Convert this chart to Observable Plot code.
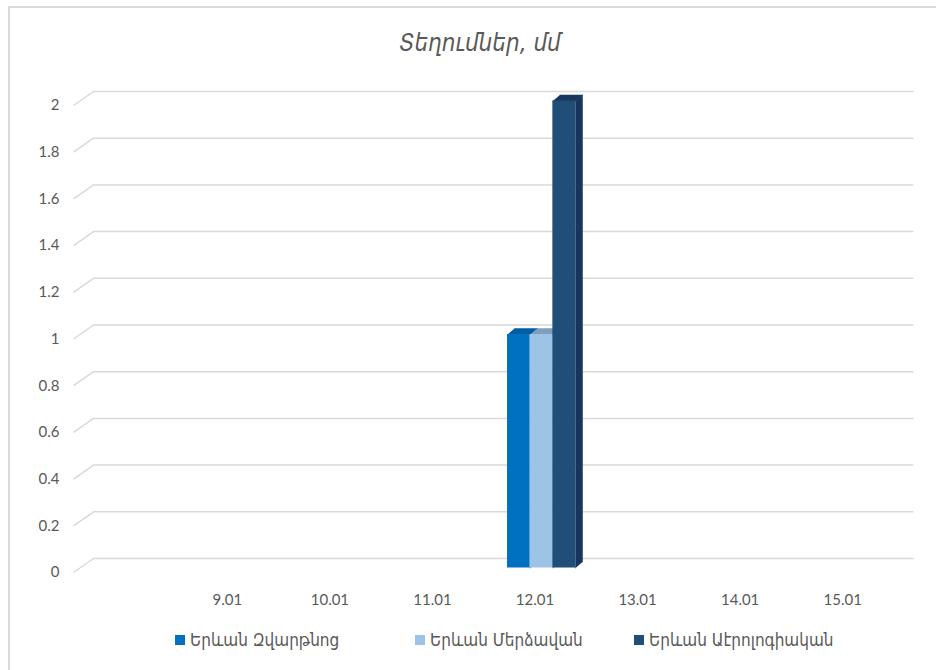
<!DOCTYPE html>
<html><head><meta charset="utf-8">
<script src="https://cdn.jsdelivr.net/npm/d3@7"></script>
<script src="https://cdn.jsdelivr.net/npm/@observablehq/plot@0.6"></script>
<style>
body{margin:0;overflow:hidden;background:#fff;}
#wrap{position:relative;width:936px;height:670px;overflow:hidden;background:#fff;}
#frame{position:absolute;left:8px;top:6px;width:1000px;height:1000px;border:2px solid #d9d9d9;}
#title{position:absolute;top:29px;left:0;width:960px;text-align:center;font-family:"DejaVu Sans Condensed","DejaVu Sans",sans-serif;font-style:italic;font-size:24px;color:#595959;}
#chart{position:absolute;left:0;top:70px;}
.leg{position:absolute;top:630px;display:flex;align-items:center;font-family:"DejaVu Sans Condensed","DejaVu Sans",sans-serif;font-size:17px;color:#595959;white-space:nowrap;}
.sw{width:10px;height:10px;margin-right:5px;}
</style>
</head><body>
<div id="wrap">
  <div id="frame"></div>
  <div id="title"></div>
  <div id="chart"></div>
</div>
<script>
// ---- data ----
const titleText = "Տեղումներ, մմ";
const categories = ["", "9.01", "10.01", "11.01", "12.01", "13.01", "14.01", "15.01"];
const seriesNames = ["Երևան Զվարթնոց", "Երևան Մերձավան", "Երևան Աէրոլոգիական"];
const zvartnots   = [null, 0, 0, 0, 1, 0, 0, 0];
const merdzavan   = [null, 0, 0, 0, 1, 0, 0, 0];
const aerological = [null, 0, 0, 0, 2, 0, 0, 0];
const yTicks = [0, 0.2, 0.4, 0.6, 0.8, 1, 1.2, 1.4, 1.6, 1.8, 2];

// ---- styles / layout ----
const frontColors = ["#0070c0", "#9dc3e6", "#1f4e79"];
const topColors   = ["#005ea3", "#7f9dbd", "#17375e"];
const sideColors  = ["#005390", "#6f8aa6", "#16365a"];
const legendLeft  = [175, 415, 634];
const W = 936, H = 540, mL = 73, mR = 42.5, mT = 35, mB = 38;
const nCat = categories.length;
const unitX = (W - mL - mR) / nCat;
const unitY = (H - mT - mB) / 2;
const groupW = 68 / unitX, barW = groupW / 3;
const depthX = 7 / unitX, depthY = 6 / unitY;       // bar depth
const backX = 20 / unitX, backY = 14 / unitY;       // wall depth
const barDx = 6.5, barDy = -4.5;

document.getElementById("title").textContent = titleText;

const seriesValues = [zvartnots, merdzavan, aerological];
const barMarks = [];
seriesValues.forEach((vals, j) => {
  const bars = [];
  vals.forEach((v, i) => {
    if (v == null || v <= 0) return;
    const x1 = i + 0.5 - groupW / 2 + j * barW;
    bars.push({id: `${j}-${i}`, v, x1, x2: x1 + barW});
  });
  const side = bars.flatMap(b => [
    {id: b.id, x: b.x2, y: 0},
    {id: b.id, x: b.x2, y: b.v},
    {id: b.id, x: b.x2 + depthX, y: b.v + depthY},
    {id: b.id, x: b.x2 + depthX, y: depthY}
  ]);
  const top = bars.flatMap(b => [
    {id: b.id, x: b.x1, y: b.v},
    {id: b.id, x: b.x2, y: b.v},
    {id: b.id, x: b.x2 + depthX, y: b.v + depthY},
    {id: b.id, x: b.x1 + depthX, y: b.v + depthY}
  ]);
  barMarks.push(
    Plot.line(side, {x: "x", y: "y", z: "id", fill: sideColors[j], stroke: sideColors[j], strokeWidth: 0.5, dx: barDx, dy: barDy}),
    Plot.line(top, {x: "x", y: "y", z: "id", fill: topColors[j], stroke: topColors[j], strokeWidth: 0.5, dx: barDx, dy: barDy}),
    Plot.rect(bars, {x1: "x1", x2: "x2", y1: 0, y2: "v", fill: frontColors[j], dx: barDx, dy: barDy})
  );
});

const chart = Plot.plot({
  width: W, height: H,
  marginLeft: mL, marginRight: mR, marginTop: mT, marginBottom: mB,
  style: {fontFamily: "Lato, 'DejaVu Sans', sans-serif", fontSize: "15px", color: "#595959", background: "transparent"},
  x: {domain: [0, nCat], ticks: d3.range(1, nCat).map(i => i + 0.5), tickFormat: v => categories[Math.floor(v)], tickSize: 0, tickPadding: 22, label: null},
  y: {domain: [0, 2], ticks: yTicks, tickFormat: v => String(Math.round(v * 10) / 10), tickSize: 0, tickPadding: 14, label: null},
  marks: [
    Plot.link(yTicks, {x1: 0, y1: d => d, x2: backX, y2: d => d + backY, stroke: "#d9d9d9", strokeWidth: 1.5}),
    Plot.ruleY(yTicks, {y: d => d + backY, x1: backX, x2: nCat + backX, stroke: "#d9d9d9", strokeWidth: 1.5}),
    ...barMarks
  ]
});
document.getElementById("chart").appendChild(chart);

// legend
const wrap = document.getElementById("wrap");
seriesNames.forEach((name, j) => {
  const item = document.createElement("div");
  item.className = "leg";
  item.style.left = legendLeft[j] + "px";
  const sw = document.createElement("span");
  sw.className = "sw";
  sw.style.background = frontColors[j];
  const t = document.createElement("span");
  t.textContent = name;
  item.appendChild(sw); item.appendChild(t);
  wrap.appendChild(item);
});
</script>
</body></html>
